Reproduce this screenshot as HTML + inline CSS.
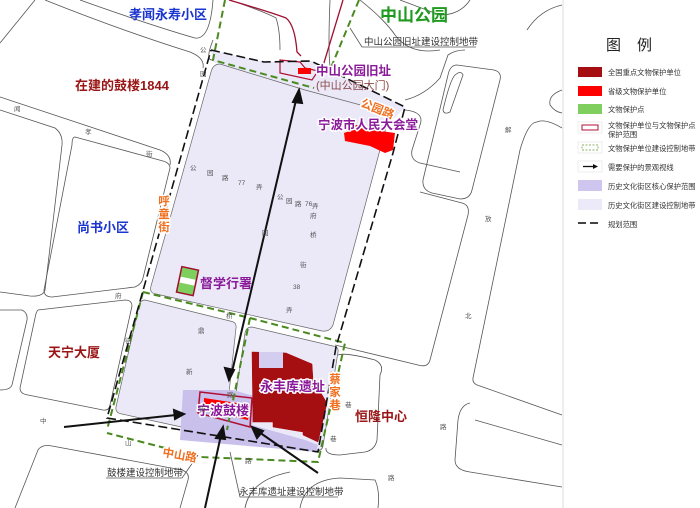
<!DOCTYPE html>
<html><head><meta charset="utf-8"><style>
html,body{margin:0;padding:0;background:#fff}
svg{display:block}
text{font-family:"Liberation Sans","Noto Sans CJK SC",sans-serif}
.lb{font-weight:bold}
.halo{paint-order:stroke;stroke:#fff;stroke-width:3px;stroke-linejoin:round}
</style></head><body>
<svg width="700" height="508" viewBox="0 0 700 508" xmlns="http://www.w3.org/2000/svg">
<rect width="700" height="508" fill="#fff"/>
<!-- roads -->
<g fill="none" stroke="#555" stroke-width="0.8">
<path d="M0,43 L35,0"/>
<path d="M80,0 Q150,25 195,38 Q210,40 213,0"/>
<path d="M45,0 Q120,30 190,52 Q205,58 203,68"/>
<path d="M0,97 L160,150 Q172,155 170,165"/>
<path d="M0,110 L55,128 Q63,134 62,145 L45,290 Q43,297 30,296 L0,292"/>
<path d="M75,137 Q72,137 72,145 L44,290 Q44,297 52,297 L135,287 Q142,284 143,278 L170,168 Q170,163 163,161 Z"/>
<path d="M38,310 Q36,312 35,318 L20,388 Q20,394 28,395 L103,410 Q109,411 110,405 L132,306 Q132,300 125,300 Z"/>
<path d="M0,310 L22,310 Q28,313 27,320 L12,385 Q10,390 0,390"/>
<path d="M15,508 L38,450 Q42,444 52,446 L182,470 Q190,473 188,480 L180,508"/>
<path d="M213,40 Q205,60 212,60"/>
<path d="M230,0 Q265,12 276,18 Q280,30 280,50"/>
<path d="M330,0 Q328,50 330,66"/>
<path d="M405,100 Q425,95 440,78 L448,55 Q455,50 465,50"/>
<path d="M360,0 Q385,20 395,35 Q410,55 440,50"/>
<path d="M457,65 Q450,65 448,75 L423,180 Q422,190 432,193 L460,199 Q470,199 472,190 L500,80 Q502,72 494,70 Z"/>
<path d="M455,75 Q450,80 443,110 Q444,115 450,112 L463,75 Q461,70 455,75"/>
<path d="M405,110 Q425,112 420,125 L412,150 Q410,160 420,163 L460,172"/>
<path d="M468,215 Q470,205 462,203 L420,192"/>
<path d="M468,215 L430,360 Q428,368 418,365 L335,345"/>
<path d="M537,122 Q545,118 562,128"/>
<path d="M537,122 Q528,122 520,150 L473,378 Q472,384 480,386 L562,415"/>
<path d="M527,30 Q540,10 562,5"/>
<path d="M470,0 Q460,15 440,15 L400,0"/>
<path d="M562,90 Q548,95 550,105 Q555,112 562,113"/>
<path d="M338,355 Q345,352 375,360 Q385,365 380,375 L377,440 Q375,450 365,452 L340,455 Q325,455 326,448"/>
<path d="M470,403 Q460,405 458,420 L455,460 Q455,470 470,472 L562,487"/>
<path d="M562,445 L475,420"/>
<path d="M300,508 Q305,480 340,478 L375,480 Q380,490 378,508"/>
<path d="M245,508 Q250,480 290,472"/>
</g>
<!-- lavender strip near top -->
<path d="M211,50 L264,62 L311,61 L405,107 L395,118 L213,62 Z" fill="#ebe8f8"/>
<!-- lavender blocks -->
<g fill="#ebe8f8" stroke="#666" stroke-width="0.7">
<path d="M220,64 Q213,64 211,72 L151,286 Q149,293 156,294 L322,331 Q330,332 333,325 L388,120 Q390,113 383,111 L305,90 Z"/>
<path d="M145,300 Q140,300 139,306 L116,407 Q115,413 122,414 L218,435 Q224,436 225,430 L236,328 Q237,322 230,321 Z"/>
<path d="M252,327 Q246,327 245,333 L229,440 L316,451 Q322,451 323,446 L338,352 Q339,347 333,346 Z"/>
</g>
<!-- core zone -->
<path d="M183,390 L233,390 L250,395 L262,395 L252,425 L305,440 L318,445 L316,452 L180,440 Z" fill="#c9c0ec"/>
<!-- Yongfengku -->
<path d="M252,352 L286,353 L312,364 L313,380 L327,403 L318,442 L303,435 L303,432 L273,427 L273,422 L253,422 Z" fill="#a50f12" stroke="#a00" stroke-width="0.5"/>
<rect x="259" y="352" width="24" height="16" fill="#d3cdef"/>
<!-- Gulou -->
<path d="M200,392 L252,398 L250,427 L198,413 Z" fill="none" stroke="#b01035" stroke-width="1.5"/>
<path d="M204,398 L250,405 L248,420 L204,410 Z" fill="#ff0000"/>
<!-- hall -->
<path d="M344,133 L352,130 L352,125 L358,125 L360,128 L395,133 L393,150 L385,153 L370,146 L345,141 Z" fill="#ff0000"/>
<!-- zhongshan gate -->
<path d="M280,60 L300,62 L305,68 L318,71 L312,80 L280,73 Z" fill="none" stroke="#b01035" stroke-width="1.2"/>
<rect x="298" y="68" width="13" height="6" fill="#ff0000"/>
<path d="M229,0 Q270,12 286,18 Q295,25 297,52 L301,56" fill="none" stroke="#a01030" stroke-width="1.3"/>
<path d="M343,0 L323,66" fill="none" stroke="#a01030" stroke-width="1.3"/>
<!-- dudu -->
<rect x="179" y="268" width="17" height="26" fill="#7fcf5f" stroke="#a01030" stroke-width="1.5" transform="rotate(12 187 281)"/>
<rect x="180" y="278" width="15" height="6" fill="#fff" transform="rotate(12 187 281)"/>
<!-- green dashed -->
<g fill="none" stroke="#4a8a20" stroke-width="2" stroke-dasharray="7,4">
<path d="M225,0 L213,60 L314,88"/>
<path d="M359,0 L330,70"/>
<path d="M143,292 L250,318 L345,343 L318,462 L200,457 L107,433"/>
<path d="M143,292 L107,430"/>
<path d="M250,318 L227,430"/>
</g>
<!-- black dashed boundary -->
<path d="M211,50 L264,62 L311,61 L405,107 L393,153 L336,347 L318,452 L107,418 L211,50" fill="none" stroke="#111" stroke-width="1.6" stroke-dasharray="9,4"/>
<!-- arrows -->
<g stroke="#111" stroke-width="2" fill="#111">
<line x1="296" y1="100" x2="232" y2="372"/>
<path d="M299,90 L293,102 L302,103 Z"/>
<path d="M229,380 L225,368 L234,370 Z"/>
<line x1="205" y1="508" x2="221" y2="435"/>
<path d="M223,427 L216,438 L225,439 Z"/>
<line x1="64" y1="427" x2="176" y2="415"/>
<path d="M184,414 L174,410 L175,419 Z"/>
<line x1="318" y1="473" x2="259" y2="432"/>
<path d="M252,427 L257,438 L263,431 Z"/>
</g>
<!-- leader lines -->
<g fill="none" stroke="#555" stroke-width="0.8">
<path d="M350,28 L362,47 L476,47"/>
<path d="M198,455 L182,478 L106,478"/>
<path d="M230,452 L240,497 L338,497"/>
</g>
<!-- labels -->
<text x="168" y="19" font-size="13" fill="#1a35d0" class="lb" text-anchor="middle">孝闻永寿小区</text>
<text x="414" y="21" font-size="17" fill="#1e9a1e" class="lb" text-anchor="middle">中山公园</text>
<text x="364" y="45" font-size="9.5" fill="#333">中山公园旧址建设控制地带</text>
<text x="75" y="90" font-size="13" fill="#9a1515" class="lb">在建的鼓楼1844</text>
<text x="316" y="75" font-size="12.5" fill="#8b1a9a" class="lb halo">中山公园旧址</text>
<text x="316" y="89" font-size="11" fill="#8a4a4a">(中山公园大门)</text>
<text x="360" y="106" font-size="11.5" fill="#f07020" class="lb halo" transform="rotate(22 360 106)">公园路</text>
<text x="318" y="129" font-size="12.5" fill="#8b1a9a" class="lb halo">宁波市人民大会堂</text>
<text x="164" y="205" font-size="11.5" fill="#f07020" class="lb halo" text-anchor="middle">呼</text>
<text x="164" y="218" font-size="11.5" fill="#f07020" class="lb halo" text-anchor="middle">童</text>
<text x="164" y="231" font-size="11.5" fill="#f07020" class="lb halo" text-anchor="middle">街</text>
<text x="77" y="232" font-size="13" fill="#1a35d0" class="lb">尚书小区</text>
<text x="200" y="288" font-size="13" fill="#8b1a9a" class="lb">督学行署</text>
<text x="48" y="357" font-size="13" fill="#9a1515" class="lb">天宁大厦</text>
<text x="260" y="391" font-size="13" fill="#8b1a9a" class="lb halo">永丰库遗址</text>
<text x="335" y="383" font-size="11.5" fill="#f07020" class="lb halo" text-anchor="middle">蔡</text>
<text x="335" y="396" font-size="11.5" fill="#f07020" class="lb halo" text-anchor="middle">家</text>
<text x="335" y="409" font-size="11.5" fill="#f07020" class="lb halo" text-anchor="middle">巷</text>
<text x="355" y="421" font-size="13" fill="#9a1515" class="lb">恒隆中心</text>
<text x="197" y="415" font-size="13" fill="#8b1a9a" class="lb halo">宁波鼓楼</text>
<text x="162" y="456" font-size="11.5" fill="#f07020" class="lb halo" transform="rotate(10 162 456)">中山路</text>
<text x="107" y="476" font-size="9.5" fill="#333">鼓楼建设控制地带</text>
<text x="239" y="495" font-size="9.5" fill="#333">永丰库遗址建设控制地带</text>
<!-- small road labels -->
<g font-size="6.5" fill="#555">
<text x="200" y="52">公</text><text x="200" y="76">园</text>
<text x="14" y="111">闻</text><text x="85" y="134">孝</text><text x="146" y="156">街</text>
<text x="190" y="170">公</text><text x="207" y="175">园</text><text x="222" y="180">路</text><text x="238" y="185">77</text><text x="256" y="189">弄</text>
<text x="277" y="199">公</text><text x="286" y="203">园</text><text x="295" y="206">路</text><text x="305" y="206">76</text><text x="312" y="208">弄</text>
<text x="310" y="218">府</text><text x="310" y="237">桥</text><text x="262" y="235">园</text>
<text x="300" y="267">街</text><text x="293" y="289">38</text><text x="286" y="312">弄</text>
<text x="115" y="298">府</text><text x="226" y="318">桥</text><text x="198" y="333">鼎</text><text x="125" y="343">街</text>
<text x="186" y="374">新</text><text x="227" y="397">路</text><text x="199" y="411">街</text><text x="40" y="423">中</text><text x="125" y="445">山</text><text x="245" y="463">路</text>
<text x="505" y="132">解</text><text x="485" y="221">放</text><text x="465" y="318">北</text><text x="440" y="429">路</text><text x="388" y="480">路</text><text x="345" y="407">巷</text><text x="330" y="441">巷</text>
</g>
<!-- legend -->
<line x1="563" y1="0" x2="563" y2="508" stroke="#ddd" stroke-width="1"/>
<text x="606" y="50" font-size="15" fill="#222">图</text>
<text x="637" y="50" font-size="15" fill="#222">例</text>
<rect x="578" y="67" width="24" height="10" fill="#a50f12"/>
<rect x="578" y="86" width="24" height="10" fill="#ff0000"/>
<rect x="578" y="104" width="24" height="10" fill="#7fcf5f"/>
<rect x="578" y="122" width="24" height="11" fill="#fff" stroke="#ddd" stroke-width="0.5"/>
<rect x="582" y="125" width="16" height="5" fill="none" stroke="#b01035" stroke-width="1"/>
<rect x="578" y="142" width="24" height="11" fill="#fff" stroke="#ddd" stroke-width="0.5"/>
<rect x="582" y="145" width="16" height="5" fill="none" stroke="#8ab060" stroke-width="1" stroke-dasharray="2,1.5"/>
<rect x="578" y="161" width="24" height="11" fill="#fff" stroke="#ddd" stroke-width="0.5"/>
<line x1="583" y1="166.5" x2="594" y2="166.5" stroke="#111" stroke-width="1.3"/>
<path d="M598,166.5 L593,164 L593,169 Z" fill="#111"/>
<rect x="578" y="180" width="24" height="11" fill="#cfc6f0"/>
<rect x="578" y="199" width="24" height="11" fill="#eceaf8"/>
<line x1="578" y1="223" x2="602" y2="223" stroke="#444" stroke-width="2" stroke-dasharray="8,4"/>
<g font-size="7.3" fill="#333">
<text x="608" y="75">全国重点文物保护单位</text>
<text x="608" y="94">省级文物保护单位</text>
<text x="608" y="112">文物保护点</text>
<text x="608" y="128">文物保护单位与文物保护点</text>
<text x="608" y="137">保护范围</text>
<text x="608" y="151">文物保护单位建设控制地带</text>
<text x="608" y="170">需要保护的景观视线</text>
<text x="608" y="189">历史文化街区核心保护范围</text>
<text x="608" y="208">历史文化街区建设控制地带</text>
<text x="608" y="227">规划范围</text>
</g>
</svg>
</body></html>
